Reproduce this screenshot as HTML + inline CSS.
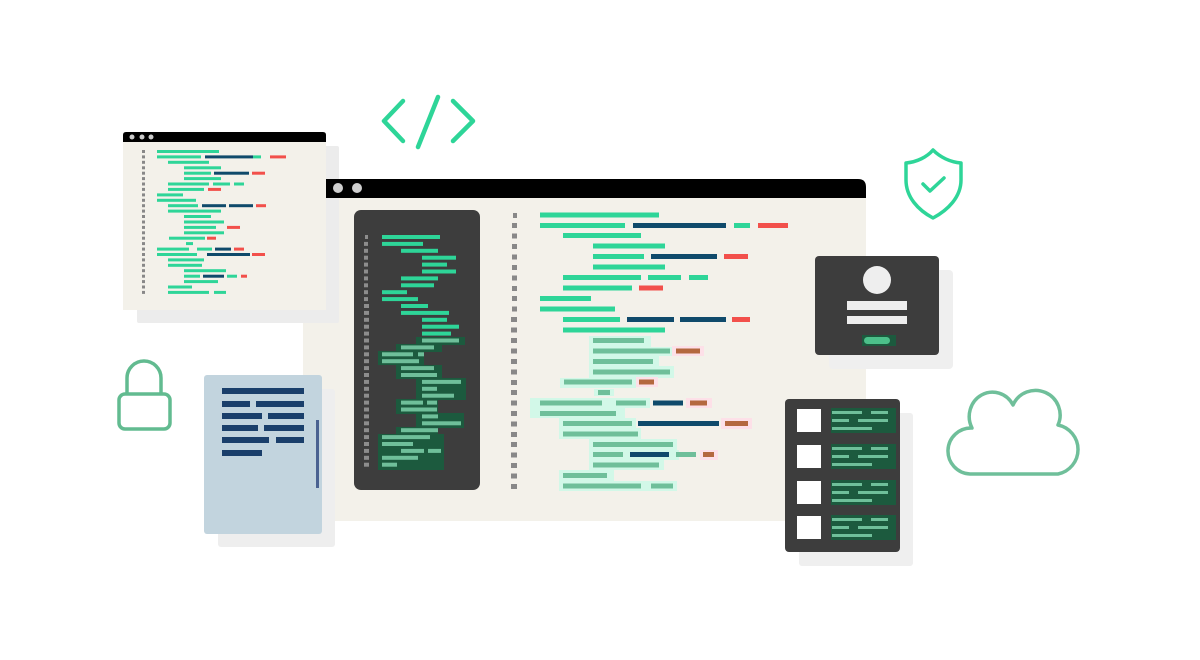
<!DOCTYPE html>
<html><head><meta charset="utf-8"><style>
html,body{margin:0;padding:0;background:#fff;width:1200px;height:660px;overflow:hidden}
svg{display:block}
</style></head><body>
<svg width="1200" height="660" viewBox="0 0 1200 660" xmlns="http://www.w3.org/2000/svg">
<rect width="1200" height="660" fill="#fff"/>

<!-- code icon -->
<g stroke="#2ed598" stroke-width="4.5" stroke-linecap="round" stroke-linejoin="round" fill="none">
<polyline points="403,101 384,121 403,141"/>
<line x1="438" y1="97" x2="418" y2="147"/>
<polyline points="453,101 473,121 453,141"/>
</g>

<!-- shield -->
<g stroke="#2ed598" stroke-width="3.5" fill="none" stroke-linejoin="round" stroke-linecap="round">
<path d="M933,150 C927,157 917,162 906,163 L906,180 C906,197 918,210 933,218 C948,210 961,197 961,180 L961,163 C950,162 940,157 933,150 Z"/>
<polyline points="923,184 930,191 944,178"/>
</g>

<!-- main window body -->
<rect x="303" y="197" width="563" height="324" fill="#f3f1ea"/>
<!-- small window shadow -->
<rect x="137" y="146" width="202" height="177" fill="#ececec" rx="2"/>
<!-- main title bar -->
<path d="M326,179 H858 Q866,179 866,187 V198 H326 Z" fill="#000"/>
<circle cx="338" cy="188" r="5" fill="#cfcfcf"/>
<circle cx="357" cy="188" r="5" fill="#cfcfcf"/>

<!-- small window -->
<rect x="123" y="142" width="203" height="168" fill="#f3f1ea"/>
<path d="M123,135 Q123,132 126,132 H323 Q326,132 326,135 V142 H123 Z" fill="#000"/>
<circle cx="132" cy="137" r="2.5" fill="#ccc"/><circle cx="142" cy="137" r="2.5" fill="#ccc"/><circle cx="151" cy="137" r="2.5" fill="#ccc"/>
<g fill="#888">
<rect x="142" y="150" width="3" height="3"/><rect x="142" y="155.4" width="3" height="3"/><rect x="142" y="160.8" width="3" height="3"/><rect x="142" y="166.3" width="3" height="3"/><rect x="142" y="171.7" width="3" height="3"/><rect x="142" y="177.1" width="3" height="3"/><rect x="142" y="182.5" width="3" height="3"/><rect x="142" y="187.9" width="3" height="3"/><rect x="142" y="193.4" width="3" height="3"/><rect x="142" y="198.8" width="3" height="3"/><rect x="142" y="204.2" width="3" height="3"/><rect x="142" y="209.6" width="3" height="3"/><rect x="142" y="215" width="3" height="3"/><rect x="142" y="220.5" width="3" height="3"/><rect x="142" y="225.9" width="3" height="3"/><rect x="142" y="231.3" width="3" height="3"/><rect x="142" y="236.7" width="3" height="3"/><rect x="142" y="242.1" width="3" height="3"/><rect x="142" y="247.6" width="3" height="3"/><rect x="142" y="253" width="3" height="3"/><rect x="142" y="258.4" width="3" height="3"/><rect x="142" y="263.8" width="3" height="3"/><rect x="142" y="269.2" width="3" height="3"/><rect x="142" y="274.7" width="3" height="3"/><rect x="142" y="280.1" width="3" height="3"/><rect x="142" y="285.5" width="3" height="3"/><rect x="142" y="290.9" width="3" height="3"/>
</g>
<g fill="#2ed598">
<rect x="157" y="150" width="62" height="3"/>
<rect x="157" y="155.4" width="44" height="3"/><rect x="253" y="155.4" width="8" height="3"/>
<rect x="168" y="160.8" width="41" height="3"/>
<rect x="184" y="166.3" width="37" height="3"/>
<rect x="184" y="171.7" width="27" height="3"/>
<rect x="184" y="177.1" width="37" height="3"/>
<rect x="168" y="182.5" width="41" height="3"/><rect x="213" y="182.5" width="17" height="3"/><rect x="234" y="182.5" width="10" height="3"/>
<rect x="168" y="187.9" width="36" height="3"/>
<rect x="157" y="193.4" width="26" height="3"/>
<rect x="157" y="198.8" width="39" height="3"/>
<rect x="168" y="204.2" width="30" height="3"/>
<rect x="168" y="209.6" width="53" height="3"/>
<rect x="184" y="215" width="27" height="3"/>
<rect x="184" y="220.5" width="40" height="3"/>
<rect x="184" y="225.9" width="32" height="3"/>
<rect x="184" y="231.3" width="40" height="3"/>
<rect x="169" y="236.7" width="36" height="3"/>
<rect x="186" y="242.1" width="7" height="3"/>
<rect x="157" y="247.6" width="32" height="3"/><rect x="197" y="247.6" width="15" height="3"/>
<rect x="157" y="253" width="40" height="3"/>
<rect x="168" y="258.4" width="36" height="3"/>
<rect x="168" y="263.8" width="34" height="3"/>
<rect x="184" y="269.2" width="42" height="3"/>
<rect x="184" y="274.7" width="16" height="3"/><rect x="227" y="274.7" width="10" height="3"/>
<rect x="184" y="280.1" width="34" height="3"/>
<rect x="168" y="285.5" width="24" height="3"/>
<rect x="168" y="290.9" width="41" height="3"/><rect x="214" y="290.9" width="12" height="3"/>
</g>
<g fill="#0f4a6b">
<rect x="205" y="155.4" width="48" height="3"/>
<rect x="214" y="171.7" width="35" height="3"/>
<rect x="202" y="204.2" width="24" height="3"/><rect x="229" y="204.2" width="24" height="3"/>
<rect x="215" y="247.6" width="16" height="3"/>
<rect x="207" y="253" width="43" height="3"/>
<rect x="203" y="274.7" width="21" height="3"/>
</g>
<g fill="#f2504b">
<rect x="270" y="155.4" width="16" height="3"/>
<rect x="252" y="171.7" width="13" height="3"/>
<rect x="208" y="187.9" width="13" height="3"/>
<rect x="256" y="204.2" width="10" height="3"/>
<rect x="227" y="225.9" width="13" height="3"/>
<rect x="207" y="236.7" width="9" height="3"/>
<rect x="234" y="247.6" width="10" height="3"/>
<rect x="252" y="253" width="13" height="3"/>
<rect x="241" y="274.7" width="6" height="3"/>
</g>

<!-- dark code panel -->
<rect x="354" y="210" width="126" height="280" rx="7" fill="#3d3d3d"/>
<g fill="#8d8d8d">
<rect x="365" y="235" width="3" height="4"/><rect x="364" y="241.9" width="4" height="4"/><rect x="364" y="248.8" width="4" height="4"/><rect x="364" y="255.7" width="4" height="4"/><rect x="364" y="262.6" width="4" height="4"/><rect x="364" y="269.5" width="4" height="4"/><rect x="364" y="276.4" width="4" height="4"/><rect x="364" y="283.3" width="4" height="4"/><rect x="364" y="290.2" width="4" height="4"/><rect x="364" y="297.1" width="4" height="4"/><rect x="364" y="304" width="5" height="4"/><rect x="364" y="310.9" width="5" height="4"/><rect x="364" y="317.8" width="5" height="4"/><rect x="364" y="324.7" width="5" height="4"/><rect x="364" y="331.6" width="5" height="4"/><rect x="364" y="338.5" width="5" height="4"/><rect x="364" y="345.4" width="5" height="4"/><rect x="364" y="352.3" width="5" height="4"/><rect x="364" y="359.2" width="5" height="4"/><rect x="364" y="366.1" width="5" height="4"/><rect x="364" y="373" width="5" height="4"/><rect x="364" y="379.9" width="5" height="4"/><rect x="364" y="386.8" width="5" height="4"/><rect x="364" y="393.7" width="5" height="4"/><rect x="364" y="400.6" width="5" height="4"/><rect x="364" y="407.5" width="5" height="4"/><rect x="364" y="414.4" width="5" height="4"/><rect x="364" y="421.3" width="5" height="4"/><rect x="364" y="428.2" width="5" height="4"/><rect x="364" y="435.1" width="5" height="4"/><rect x="364" y="442" width="5" height="4"/><rect x="364" y="448.9" width="5" height="4"/><rect x="364" y="455.8" width="5" height="4"/><rect x="364" y="462.7" width="5" height="4"/>
</g>
<g fill="#2ed598">
<rect x="382" y="235" width="58" height="4"/>
<rect x="382" y="241.9" width="41" height="4"/>
<rect x="401" y="248.8" width="37" height="4"/>
<rect x="422" y="255.7" width="34" height="4"/>
<rect x="422" y="262.6" width="25" height="4"/>
<rect x="422" y="269.5" width="34" height="4"/>
<rect x="401" y="276.4" width="37" height="4"/>
<rect x="401" y="283.3" width="33" height="4"/>
<rect x="382" y="290.2" width="25" height="4"/>
<rect x="382" y="297.1" width="36" height="4"/>
<rect x="401" y="304" width="27" height="4"/>
<rect x="401" y="310.9" width="48" height="4"/>
<rect x="422" y="317.8" width="25" height="4"/>
<rect x="422" y="324.7" width="37" height="4"/>
<rect x="422" y="331.6" width="29" height="4"/>
</g>
<g fill="#1c5a3e">
<rect x="416" y="337" width="49" height="8"/>
<rect x="396" y="344" width="46" height="8"/>
<rect x="378" y="351" width="46" height="14"/>
<rect x="396" y="365" width="46" height="14"/>
<rect x="416" y="378" width="50" height="22"/>
<rect x="396" y="399" width="42" height="15"/>
<rect x="416" y="413" width="48" height="15"/>
<rect x="396" y="427" width="42" height="8"/>
<rect x="378" y="434" width="66" height="36"/>
</g>
<g fill="#6fbf9a">
<rect x="422" y="338.5" width="37" height="4"/>
<rect x="401" y="345.4" width="33" height="4"/>
<rect x="382" y="352.3" width="31" height="4"/><rect x="418" y="352.3" width="6" height="4"/>
<rect x="382" y="359.2" width="37" height="4"/>
<rect x="401" y="366.1" width="33" height="4"/>
<rect x="401" y="373" width="36" height="4"/>
<rect x="422" y="379.9" width="39" height="4"/>
<rect x="422" y="386.8" width="15" height="4"/>
<rect x="422" y="393.7" width="32" height="4"/>
<rect x="401" y="400.6" width="22" height="4"/><rect x="427" y="400.6" width="10" height="4"/>
<rect x="401" y="407.5" width="36" height="4"/>
<rect x="422" y="414.4" width="16" height="4"/>
<rect x="422" y="421.3" width="39" height="4"/>
<rect x="401" y="428.2" width="37" height="4"/>
<rect x="382" y="435.1" width="48" height="4"/>
<rect x="382" y="442" width="31" height="4"/>
<rect x="401" y="448.9" width="23" height="4"/><rect x="428" y="448.9" width="13" height="4"/>
<rect x="382" y="455.8" width="36" height="4"/>
<rect x="382" y="462.7" width="15" height="4"/>
</g>

<!-- right code -->
<g fill="#888">
<rect x="513" y="213" width="4" height="5"/><rect x="512" y="223" width="5" height="5"/><rect x="512" y="233.5" width="5" height="5"/><rect x="512" y="244" width="5" height="5"/><rect x="512" y="254.5" width="5" height="5"/><rect x="512" y="265" width="5" height="5"/><rect x="512" y="275.5" width="5" height="5"/><rect x="512" y="286" width="5" height="5"/><rect x="512" y="296" width="5" height="5"/><rect x="512" y="306.5" width="5" height="5"/><rect x="511" y="317" width="6" height="5"/><rect x="511" y="327.5" width="6" height="5"/><rect x="511" y="338" width="6" height="5"/><rect x="511" y="348.5" width="6" height="5"/><rect x="511" y="359" width="6" height="5"/><rect x="511" y="369.5" width="6" height="5"/><rect x="511" y="380" width="6" height="5"/><rect x="511" y="390" width="6" height="5"/><rect x="511" y="400.5" width="6" height="5"/><rect x="511" y="411" width="6" height="5"/><rect x="511" y="421.5" width="6" height="5"/><rect x="511" y="432" width="6" height="5"/><rect x="511" y="442" width="6" height="5"/><rect x="511" y="452.5" width="6" height="5"/><rect x="511" y="463" width="6" height="5"/><rect x="511" y="473.5" width="6" height="5"/><rect x="511" y="484" width="6" height="5"/>
</g>
<g fill="#d2f8e8">
<rect x="589" y="336" width="62" height="12"/>
<rect x="589" y="347" width="86" height="9"/>
<rect x="589" y="356" width="70" height="10"/>
<rect x="589" y="366" width="85" height="12"/>
<rect x="560" y="378" width="76" height="10"/>
<rect x="594" y="389" width="20" height="7"/>
<rect x="530" y="398" width="120" height="10"/>
<rect x="530" y="408" width="95" height="10"/>
<rect x="559" y="418" width="77" height="11"/>
<rect x="559" y="428" width="82" height="11"/>
<rect x="589" y="439" width="88" height="11"/>
<rect x="589" y="450" width="90" height="10"/>
<rect x="589" y="460" width="75" height="10"/>
<rect x="559" y="470" width="55" height="11"/>
<rect x="559" y="481" width="118" height="10"/>
</g>
<g fill="#fde0e8">
<rect x="672" y="346" width="32" height="10"/>
<rect x="636" y="377" width="22" height="10"/>
<rect x="686" y="398" width="26" height="10"/>
<rect x="721" y="418" width="31" height="11"/>
<rect x="700" y="450" width="18" height="10"/>
</g>
<g fill="#2ed598">
<rect x="540" y="212.5" width="119" height="5"/>
<rect x="540" y="223" width="85" height="5"/><rect x="734" y="223" width="16" height="5"/>
<rect x="563" y="233" width="78" height="5"/>
<rect x="593" y="243.5" width="72" height="5"/>
<rect x="593" y="254" width="51" height="5"/>
<rect x="593" y="264.5" width="72" height="5"/>
<rect x="563" y="275" width="78" height="5"/><rect x="648" y="275" width="33" height="5"/><rect x="689" y="275" width="19" height="5"/>
<rect x="563" y="285.5" width="69" height="5"/>
<rect x="540" y="296" width="51" height="5"/>
<rect x="540" y="306.5" width="75" height="5"/>
<rect x="563" y="317" width="57" height="5"/>
<rect x="563" y="327.5" width="102" height="5"/>
</g>
<g fill="#0f4a6b">
<rect x="633" y="223" width="93" height="5"/>
<rect x="651" y="254" width="66" height="5"/>
<rect x="627" y="317" width="47" height="5"/><rect x="680" y="317" width="46" height="5"/>
<rect x="653" y="400.5" width="30" height="5"/>
<rect x="638" y="421" width="81" height="5"/>
<rect x="630" y="452" width="39" height="5"/>
</g>
<g fill="#f2504b">
<rect x="758" y="223" width="30" height="5"/>
<rect x="724" y="254" width="24" height="5"/>
<rect x="639" y="285.5" width="24" height="5"/>
<rect x="732" y="317" width="18" height="5"/>
</g>
<g fill="#b4683f">
<rect x="676" y="348.5" width="24" height="5"/>
<rect x="639" y="379.5" width="15" height="5"/>
<rect x="690" y="400.5" width="17" height="5"/>
<rect x="725" y="421" width="23" height="5"/>
<rect x="703" y="452" width="11" height="5"/>
</g>
<g fill="#6fbf9a">
<rect x="593" y="338" width="51" height="5"/>
<rect x="593" y="348.5" width="77" height="5"/>
<rect x="593" y="359" width="60" height="5"/>
<rect x="593" y="369.5" width="77" height="5"/>
<rect x="564" y="379.5" width="68" height="5"/>
<rect x="598" y="390" width="12" height="5"/>
<rect x="540" y="400.5" width="62" height="5"/><rect x="616" y="400.5" width="30" height="5"/>
<rect x="540" y="411" width="76" height="5"/>
<rect x="563" y="421" width="69" height="5"/>
<rect x="563" y="431.5" width="75" height="5"/>
<rect x="593" y="442" width="80" height="5"/>
<rect x="593" y="452" width="30" height="5"/><rect x="676" y="452" width="20" height="5"/>
<rect x="593" y="462.5" width="66" height="5"/>
<rect x="563" y="473" width="44" height="5"/>
<rect x="563" y="483.5" width="78" height="5"/><rect x="651" y="483.5" width="22" height="5"/>
</g>

<!-- lock -->
<g stroke="#62bb90" stroke-width="3.5" fill="none">
<path d="M127,394 V378 A17,17 0 0 1 161,378 V394"/>
<rect x="119" y="394" width="51" height="35" rx="6"/>
</g>

<!-- document -->
<rect x="218" y="389" width="117" height="158" rx="3" fill="#eeeeee"/>
<rect x="204" y="375" width="118" height="159" rx="3" fill="#c2d4de"/>
<g fill="#1a3f6b">
<rect x="222" y="388" width="82" height="6"/>
<rect x="222" y="401" width="28" height="6"/><rect x="256" y="401" width="48" height="6"/>
<rect x="222" y="413" width="40" height="6"/><rect x="268" y="413" width="36" height="6"/>
<rect x="222" y="425" width="36" height="6"/><rect x="264" y="425" width="40" height="6"/>
<rect x="222" y="437" width="47" height="6"/><rect x="276" y="437" width="28" height="6"/>
<rect x="222" y="450" width="40" height="6"/>
</g>
<rect x="316" y="420" width="3" height="68" fill="#4a6291"/>

<!-- login card -->
<rect x="829" y="270" width="124" height="99" rx="4" fill="#efefef"/>
<rect x="815" y="256" width="124" height="99" rx="4" fill="#3d3d3d"/>
<circle cx="877" cy="280" r="14" fill="#eeeeee"/>
<rect x="847" y="301" width="60" height="9" fill="#eeeeee"/>
<rect x="847" y="316" width="60" height="8" fill="#eeeeee"/>
<rect x="862" y="335" width="34" height="11" fill="#1c5a3e"/>
<rect x="864" y="337" width="26" height="7" rx="3.5" fill="#4cc08a"/>

<!-- list card -->
<rect x="799" y="413" width="114" height="153" rx="3" fill="#efefef"/>
<rect x="785" y="399" width="115" height="153" rx="4" fill="#3d3d3d"/>
<g fill="#fff">
<rect x="797" y="409" width="24" height="23"/><rect x="797" y="445" width="24" height="23"/><rect x="797" y="481" width="24" height="23"/><rect x="797" y="516" width="24" height="23"/>
</g>
<g fill="#1c5a3e">
<rect x="831" y="408" width="65" height="25"/><rect x="831" y="444" width="65" height="25"/><rect x="831" y="480" width="65" height="25"/><rect x="831" y="515" width="65" height="25"/>
</g>
<g fill="#6fbf9a">
<rect x="832" y="411" width="30" height="3"/><rect x="871" y="411" width="17" height="3"/><rect x="832" y="419" width="17" height="3"/><rect x="858" y="419" width="30" height="3"/><rect x="832" y="427" width="40" height="3"/>
<rect x="832" y="447" width="30" height="3"/><rect x="871" y="447" width="17" height="3"/><rect x="832" y="455" width="17" height="3"/><rect x="858" y="455" width="30" height="3"/><rect x="832" y="463" width="40" height="3"/>
<rect x="832" y="483" width="30" height="3"/><rect x="871" y="483" width="17" height="3"/><rect x="832" y="491" width="17" height="3"/><rect x="858" y="491" width="30" height="3"/><rect x="832" y="499" width="40" height="3"/>
<rect x="832" y="518" width="30" height="3"/><rect x="871" y="518" width="17" height="3"/><rect x="832" y="526" width="17" height="3"/><rect x="858" y="526" width="30" height="3"/><rect x="832" y="534" width="40" height="3"/>
</g>

<!-- cloud -->
<path d="M970,474 A21,21 0 0 1 972,428 A21,22 0 0 1 1013,405 A24,24 0 0 1 1058,425 A25,25 0 0 1 1058,474 Z" fill="#fff" stroke="#6fbf9a" stroke-width="3.5" stroke-linejoin="round"/>
</svg>
</body></html>
